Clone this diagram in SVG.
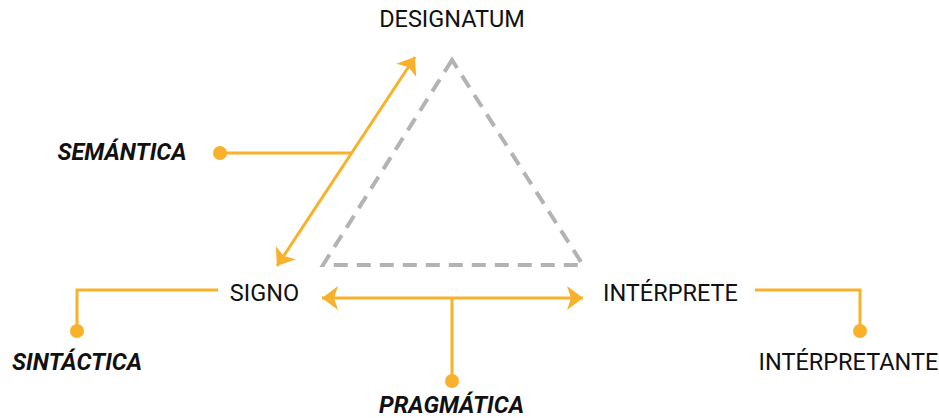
<svg xmlns="http://www.w3.org/2000/svg" width="939" height="418" viewBox="0 0 939 418">
<style>
.lbl{font-family:Roboto,"Liberation Sans",sans-serif;font-size:23.5px;fill:#111}
.it{font-weight:bold;font-style:italic}
.ln{fill:none;stroke:#F9B12B;stroke-width:3}
.dot{fill:#F9B12B}
.tri{fill:none;stroke:#B3B3B3;stroke-width:4;stroke-dasharray:14 9}
</style>
<defs>
<marker id="ah" viewBox="-17 -14 19 28" markerWidth="19" markerHeight="28" refX="0" refY="0" orient="auto-start-reverse" markerUnits="userSpaceOnUse">
<path d="M0,0 L-16,-12 L-12,0 L-16,12 Z" fill="#F9B12B"/>
</marker>
</defs>
<g id="triangle"><path class="tri" d="M452,60 L323,265 L583,265 Z"/></g>
<g id="connectors">
<line class="ln" x1="277" y1="266" x2="415" y2="57" marker-start="url(#ah)" marker-end="url(#ah)"/>
<line class="ln" x1="220" y1="153" x2="352" y2="153"/>
<circle class="dot" cx="220" cy="153" r="7"/>
<line class="ln" x1="322" y1="298" x2="583" y2="298" marker-start="url(#ah)" marker-end="url(#ah)"/>
<line class="ln" x1="452" y1="298" x2="452" y2="381"/>
<circle class="dot" cx="452" cy="381" r="7"/>
<polyline class="ln" points="218,290 77,290 77,331"/>
<circle class="dot" cx="77" cy="331" r="7"/>
<polyline class="ln" points="755,290 860,290 860,331"/>
<circle class="dot" cx="860" cy="331" r="7"/>
</g>
<g id="designatum"><text class="lbl" x="452" y="27" text-anchor="middle">DESIGNATUM</text></g>
<g id="signo"><text class="lbl" x="264.5" y="301" text-anchor="middle">SIGNO</text></g>
<g id="interprete"><text class="lbl" x="670.5" y="301" text-anchor="middle">INTÉRPRETE</text></g>
<g id="interpretante"><text class="lbl" x="848.5" y="370" text-anchor="middle">INTÉRPRETANTE</text></g>
<g id="semantica"><text class="lbl it" x="122" y="160" text-anchor="middle">SEMÁNTICA</text></g>
<g id="sintactica"><text class="lbl it" x="77" y="370" text-anchor="middle">SINTÁCTICA</text></g>
<g id="pragmatica"><text class="lbl it" x="451.5" y="413" text-anchor="middle">PRAGMÁTICA</text></g>
</svg>
